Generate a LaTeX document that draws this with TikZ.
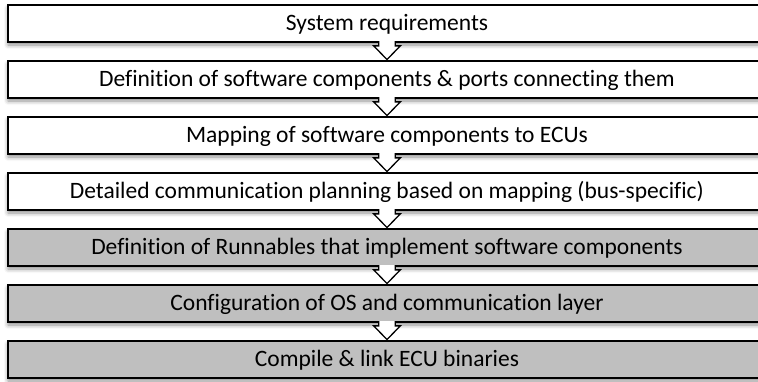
\documentclass[tikz,border=0pt]{standalone}
\usepackage{fontspec}
\setmainfont[Ligatures=NoCommon]{Carlito}
\usetikzlibrary{calc,shadows.blur}
\definecolor{stagegray}{RGB}{191,191,191}
\tikzset{
  stagebox/.style={draw=black, line width=1.7pt, fill=white,
    minimum width=758pt, minimum height=37pt, inner sep=0pt,
    text height=17pt, text depth=4pt,
    font=\fontsize{23.5}{27}\selectfont,
    blur shadow={shadow xshift=0pt, shadow yshift=-3pt,
      shadow blur radius=4pt, shadow opacity=45}},
  laterstage/.style={fill=stagegray},
  flowarrow/.style={draw=black, line width=1.3pt, fill=white, line join=miter}
}
% one block arrow from the bottom of box #1 to the top of box #2
\newcommand{\stagearrow}[2]{%
  \path[flowarrow]
    ($(#1.south)+(-8.3pt,1.7pt)$) -- ($(#1.south)+(-8.3pt,-3pt)$)
    -- ($(#1.south)+(-13.3pt,-3pt)$) -- ($(#2.north)+(0pt,0.6pt)$)
    -- ($(#1.south)+(13.3pt,-3pt)$) -- ($(#1.south)+(8.3pt,-3pt)$)
    -- ($(#1.south)+(8.3pt,1.7pt)$);}
\begin{document}
\begin{tikzpicture}[x=1pt, y=-1pt]
  \useasboundingbox (0,0) rectangle (758,381);
  \node[stagebox] (s1) at (387,23.5) {System requirements};
  \node[stagebox] (s2) at (387,79.5) {Definition of software components \& ports connecting them};
  \node[stagebox] (s3) at (387,135.5) {Mapping of software components to ECUs};
  \node[stagebox] (s4) at (387,191.5) {Detailed communication planning based on mapping (bus-specific)};
  \node[stagebox, laterstage] (s5) at (387,247.5) {Definition of Runnables that implement software components};
  \node[stagebox, laterstage] (s6) at (387,303.5) {Configuration of OS and communication layer};
  \node[stagebox, laterstage] (s7) at (387,359.5) {Compile \& link ECU binaries};
  \stagearrow{s1}{s2}
  \stagearrow{s2}{s3}
  \stagearrow{s3}{s4}
  \stagearrow{s4}{s5}
  \stagearrow{s5}{s6}
  \stagearrow{s6}{s7}
\end{tikzpicture}
\end{document}
